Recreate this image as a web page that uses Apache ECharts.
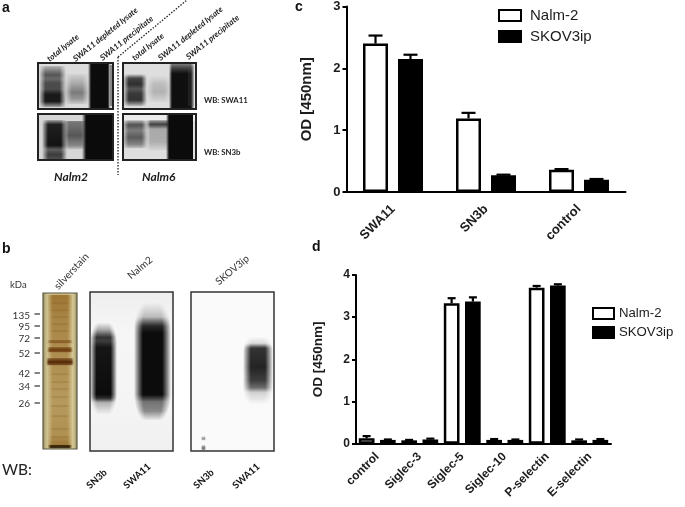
<!DOCTYPE html>
<html>
<head>
<meta charset="utf-8">
<style>
  html, body { margin: 0; background: #fff; }
  #chart { width: 685px; height: 507px; filter: blur(0.45px); }
</style>
<script src="https://cdn.jsdelivr.net/npm/echarts@6/dist/echarts.min.js"></script>
</head>
<body>
<div id="chart"></div>
<script>
const seriesNames = ['Nalm-2', 'SKOV3ip']

// panel c
const categoriesC = ['SWA11', 'SN3b', 'control']
const nalmC = [2.4, 1.19, 0.36]
const skovC = [2.15, 0.27, 0.2]
const nalmTopC = [2.53, 1.28, 0.37]
const skovTopC = [2.22, 0.28, 0.21]
const ticksC = [0, 1, 2, 3]

// panel d
const categoriesD = ['control', 'Siglec-3', 'Siglec-5', 'Siglec-10', 'P-selectin', 'E-selectin']
const nalmD = [0.13, 0.08, 3.33, 0.09, 3.7, 0.08]
const skovD = [0.09, 0.1, 3.37, 0.09, 3.75, 0.09]
const nalmTopD = [0.18, 0.09, 3.45, 0.11, 3.74, 0.1]
const skovTopD = [0.1, 0.12, 3.47, 0.1, 3.78, 0.11]
const ticksD = [0, 1, 2, 3, 4]

// panels a and b, text only
const lanesA = ['total lysate', 'SWA11 depleted lysate', 'SWA11 precipitate']
const kdaLabels = ['135', '95', '72', '52', '42', '34', '26']
const wbLanes = ['SN3b', 'SWA11', 'SN3b', 'SWA11']

const INK = '#1c1c1c'
const SANS = '"Liberation Sans", Arial, sans-serif'
const BLOT = 'Lato, "Open Sans", sans-serif'

function errorSeries(xAxisIndex, yAxisIndex, values, tops, side, slot, cap) {
  return {
    type: 'custom',
    xAxisIndex,
    yAxisIndex,
    silent: true,
    z: 3,
    encode: { x: 0, y: 1 },
    data: values.map((v, i) => [i, v, tops[i]]),
    renderItem(params, api) {
      const off = side * api.size([1, 0])[0] * slot
      const base = api.coord([api.value(0), api.value(1)])
      const top = api.coord([api.value(0), api.value(2)])
      const x = base[0] + off
      const style = { stroke: '#000', lineWidth: 2.2 }
      return {
        type: 'group',
        children: [
          { type: 'line', shape: { x1: x, y1: base[1], x2: x, y2: top[1] }, style },
          { type: 'line', shape: { x1: x - cap, y1: top[1], x2: x + cap, y2: top[1] }, style },
        ],
      }
    },
  }
}

function barSeries(name, xAxisIndex, yAxisIndex, data, fill, barWidth, barGap) {
  return {
    name,
    type: 'bar',
    xAxisIndex,
    yAxisIndex,
    data,
    barWidth,
    barGap,
    z: 2,
    itemStyle: { color: fill, borderColor: '#000', borderWidth: 2.5 },
  }
}

function valueAxis(gridIndex, ticks, name, nameGap, nameSize, labelSize) {
  return {
    gridIndex,
    type: 'value',
    min: ticks[0],
    max: ticks[ticks.length - 1],
    interval: 1,
    name,
    nameLocation: 'middle',
    nameGap,
    nameTextStyle: { fontFamily: SANS, fontWeight: 'bold', fontSize: nameSize, color: INK },
    splitLine: { show: false },
    axisLine: { show: true, lineStyle: { color: '#000', width: 2 } },
    axisTick: { show: true, length: 4, lineStyle: { color: '#000', width: 2 } },
    axisLabel: { fontFamily: SANS, fontWeight: 'bold', fontSize: labelSize, color: INK, margin: 6 },
  }
}

function legendAt(left, top, fontSize, itemWidth, itemHeight, itemGap, padLeft) {
  return {
    left,
    top,
    padding: 0,
    orient: 'vertical',
    icon: 'rect',
    data: seriesNames,
    itemWidth,
    itemHeight,
    itemGap,
    selectedMode: false,
    textStyle: { fontFamily: SANS, fontSize, color: INK, padding: [0, 0, 0, padLeft] },
  }
}

// ---- hand painted blots, these are photographs in the source figure ----
function grad(stops, horizontal) {
  return {
    type: 'linear',
    x: 0,
    y: 0,
    x2: horizontal ? 1 : 0,
    y2: horizontal ? 0 : 1,
    colorStops: stops.map(([offset, color]) => ({ offset, color })),
  }
}

function paint(x, y, w, h, fill, opacity) {
  return {
    type: 'rect',
    shape: { x, y, width: w, height: h },
    style: { fill, opacity: opacity == null ? 1 : opacity },
    silent: true,
  }
}

function frame(x, y, w, h, stroke, lineWidth) {
  return {
    type: 'rect',
    shape: { x, y, width: w, height: h },
    style: { fill: 'none', stroke: stroke || '#222', lineWidth: lineWidth || 2 },
    silent: true,
  }
}

// darkness along a lane, given as [position, alpha] pairs
function alphaAt(stops, t) {
  for (let i = 1; i < stops.length; i++) {
    if (t <= stops[i][0]) {
      const [a, av] = stops[i - 1]
      const [b, bv] = stops[i]
      return av + (bv - av) * (t - a) / (b - a)
    }
  }
  return stops[stops.length - 1][1]
}

// a smeared lane: one row per pixel with soft left and right sides.
// taper narrows the lane towards its two ends
function smear(x, y, w, h, stops, soft, rgb, taper) {
  const tone = rgb || '12,12,12'
  const edge = soft == null ? 0.2 : soft
  const rows = []
  for (let r = 0; r < h; r++) {
    const t = r / h
    const al = alphaAt(stops, t)
    const near = Math.min(1, Math.min(t, 1 - t) / 0.22)
    const inset = (taper || 0) * w * (1 - near) * (1 - near)
    rows.push(paint(x + inset, y + r, w - 2 * inset, 1.2, grad([
      [0, `rgba(${tone},0)`],
      [edge, `rgba(${tone},${al})`],
      [1 - edge, `rgba(${tone},${al})`],
      [1, `rgba(${tone},0)`],
    ], true)))
  }
  return rows
}

function label(text, x, y, opts) {
  const o = opts || {}
  return {
    type: 'text',
    x,
    y,
    rotation: (o.angle || 0) * Math.PI / 180,
    silent: true,
    style: {
      text,
      x: 0,
      y: 0,
      fill: o.color || INK,
      font: `${o.style || 'normal'} ${o.weight || 'normal'} ${o.size || 10}px ${o.family || BLOT}`,
      textAlign: o.align || 'left',
      textVerticalAlign: o.valign || 'middle',
    },
  }
}

function panelA() {
  const els = []
  // upper left
  els.push(paint(38, 63, 75, 46, '#dcdcdc'))
  els.push(...smear(39, 66, 27, 41, [[0, 0.2], [0.12, 0.45], [0.2, 0.6], [0.3, 0.5], [0.4, 0.65], [0.55, 0.65], [0.68, 0.92], [0.85, 0.92], [0.93, 0.5], [1, 0.15]], 0.24))
  els.push(...smear(64, 74, 26, 30, [[0, 0.05], [0.3, 0.22], [0.6, 0.42], [0.8, 0.3], [1, 0.05]], 0.3))
  els.push(paint(88, 63, 3, 46, grad([[0, 'rgba(12,12,12,0)'], [1, '#0c0c0c']], true)))
  els.push(paint(91, 63, 17, 46, '#0c0c0c'))
  els.push(paint(108, 63, 2, 46, grad([[0, '#0c0c0c'], [1, '#cfcfcf']], true)))
  els.push(paint(110, 65, 2, 41, '#707070', 0.8))
  // upper right
  els.push(paint(123, 63, 73, 46, '#dedede'))
  els.push(...smear(123, 74, 24, 32, [[0, 0.1], [0.12, 0.7], [0.3, 0.8], [0.45, 0.6], [0.6, 0.75], [0.8, 0.78], [0.92, 0.35], [1, 0.05]], 0.24))
  els.push(...smear(146, 76, 26, 26, [[0, 0.02], [0.3, 0.14], [0.6, 0.18], [1, 0.02]], 0.3))
  els.push(...smear(169, 63, 25, 46, [[0, 0.4], [0.12, 0.75], [0.22, 0.98], [1, 0.98]], 0.12))
  els.push(paint(188, 66, 6, 40, '#555', 0.25))
  // lower left
  els.push(paint(38, 114, 75, 46, '#d6d6d6'))
  els.push(...smear(42, 120, 25, 40, [[0, 0.3], [0.1, 0.88], [0.62, 0.96], [0.72, 0.55], [0.85, 0.72], [1, 0.6]], 0.24))
  els.push(...smear(63, 121, 24, 28, [[0, 0.42], [0.2, 0.48], [0.5, 0.58], [0.85, 0.35], [1, 0.05]], 0.24))
  els.push(paint(82, 114, 4, 46, grad([[0, 'rgba(11,11,11,0)'], [1, '#0b0b0b']], true)))
  els.push(paint(86, 114, 27, 46, '#0b0b0b'))
  // lower right
  els.push(paint(123, 114, 73, 46, '#dedede'))
  els.push(paint(123, 114, 73, 7, '#ececec'))
  els.push(...smear(122, 120, 26, 28, [[0, 0.2], [0.15, 0.62], [0.35, 0.42], [0.6, 0.58], [0.85, 0.38], [1, 0.08]], 0.24))
  els.push(...smear(146, 120, 25, 30, [[0, 0.3], [0.13, 0.7], [0.28, 0.22], [0.7, 0.2], [1, 0.03]], 0.18))
  els.push(paint(166, 114, 3, 46, grad([[0, 'rgba(11,11,11,0)'], [1, '#0b0b0b']], true)))
  els.push(paint(169, 114, 24, 46, '#0b0b0b'))
  els.push(frame(38, 63, 75, 46), frame(123, 63, 73, 46), frame(38, 114, 75, 46), frame(123, 114, 73, 46))

  // dotted divider
  const dots = { lineDash: [1.5, 1.5], stroke: '#222', lineWidth: 1.3, fill: 'none' }
  els.push({ type: 'line', shape: { x1: 118, y1: 57, x2: 118, y2: 175 }, style: dots, silent: true })
  els.push({ type: 'line', shape: { x1: 118, y1: 57, x2: 187, y2: 0 }, style: dots, silent: true })

  const starts = [[48, 60], [74, 60], [101, 59], [133, 59], [159, 59], [187, 58]]
  starts.forEach(([x, y], i) => {
    els.push(label(lanesA[i % 3], x, y, { angle: 39, size: 8.2, style: 'italic', weight: 'bold', valign: 'middle', color: '#222' }))
  })
  els.push(label('WB: SWA11', 204, 100, { size: 7.8, weight: 'bold', color: '#222' }))
  els.push(label('WB: SN3b', 204, 152, { size: 7.8, weight: 'bold', color: '#222' }))
  els.push(label('Nalm2', 54, 177, { size: 12, weight: 'bold', style: 'italic' }))
  els.push(label('Nalm6', 142, 177, { size: 12, weight: 'bold', style: 'italic' }))
  return els
}

function panelB() {
  const els = []
  // silver stain strip
  els.push(paint(43, 293, 34, 156, grad([[0, '#9c8f62'], [0.12, '#d2c494'], [0.3, '#ccb982'], [0.7, '#ccb982'], [0.88, '#d8cb9a'], [1, '#9c8f62']], true)))
  els.push(...smear(47, 295, 26, 152, [[0, 0.85], [0.15, 0.62], [0.4, 0.5], [0.7, 0.36], [0.92, 0.48], [1, 0.9]], 0.22, '150,108,40'))
  ;[302, 309, 316, 323, 330, 373, 381, 388, 396, 405, 415, 428, 436].forEach((y) => {
    els.push(...smear(49, y, 22, 2, [[0, 0.16], [1, 0.16]], 0.2, '120,80,25'))
  })
  els.push(...smear(47, 340, 26, 3, [[0, 0.55], [1, 0.55]], 0.15, '120,70,20'))
  els.push(...smear(47, 347, 26, 5, [[0, 0.5], [0.5, 0.95], [1, 0.5]], 0.12, '105,55,10'))
  els.push(...smear(46, 358, 28, 7, [[0, 0.45], [0.5, 1], [1, 0.45]], 0.1, '85,40,5'))
  els.push(...smear(48, 445, 24, 3, [[0, 0.9], [1, 0.9]], 0.12, '50,35,12'))
  els.push(frame(43, 293, 34, 156, '#5a5846', 1.2))

  // Nalm2 blot
  els.push(paint(90, 292, 83, 159, grad([[0, '#eeeeee'], [0.25, '#f6f6f6'], [0.75, '#f4f4f4'], [1, '#f0f0f0']])))
  els.push(...smear(90, 322, 27, 92, [[0, 0], [0.08, 0.3], [0.16, 0.8], [0.2, 0.75], [0.27, 0.95], [0.78, 1], [0.82, 0.85], [0.87, 0.25], [1, 0]], 0.24, null, 0.2))
  els.push(...smear(134, 302, 37, 118, [[0, 0], [0.12, 0.2], [0.2, 0.85], [0.26, 1], [0.78, 1], [0.84, 0.5], [0.92, 0.4], [1, 0]], 0.24, null, 0.2))
  els.push(frame(90, 292, 83, 159, '#333', 1.5))

  // SKOV3ip blot
  els.push(paint(191, 292, 83, 159, '#fafafa'))
  els.push(...smear(243, 336, 30, 68, [[0, 0], [0.1, 0.12], [0.17, 0.8], [0.45, 0.88], [0.65, 0.75], [0.75, 0.55], [0.82, 0.15], [1, 0]], 0.26, null, 0.15))
  els.push(...smear(201, 436, 5, 4, [[0, 0.1], [0.5, 0.4], [1, 0.1]], 0.3))
  els.push(...smear(201, 445, 5, 5, [[0, 0.2], [0.5, 0.55], [1, 0.2]], 0.3))
  els.push(frame(191, 292, 83, 159, '#333', 1.5))

  // kDa ladder
  els.push(label('kDa', 10, 285, { size: 9.5, color: '#333' }))
  const labelY = [316, 327, 339, 354, 374, 387, 404]
  const dashY = [314, 326, 338, 353, 373, 386, 403]
  kdaLabels.forEach((t, i) => {
    els.push(label(t, 30, labelY[i], { size: 10, align: 'right', color: '#333' }))
    els.push(paint(34.5, dashY[i] - 0.6, 5.5, 1.2, '#333'))
  })

  els.push(label('silverstain', 56, 288, { angle: 47, size: 10.4, color: '#333' }))
  els.push(label('Nalm2', 129, 277, { angle: 40, size: 10, color: '#333' }))
  els.push(label('SKOV3ip', 217, 283, { angle: 40, size: 10, color: '#333' }))

  els.push(label('WB:', 2, 470, { size: 15.5, color: '#222' }))
  ;[[88, 487], [125, 487], [195, 487], [234, 487]].forEach(([x, y], i) => {
    els.push(label(wbLanes[i], x, y, { angle: 42, size: 9.6, weight: 'bold', color: '#111' }))
  })
  return els
}

const panelLetters = [
  label('a', 2, 8, { size: 14, weight: 'bold', family: SANS, color: '#111' }),
  label('b', 2, 249, { size: 14, weight: 'bold', family: SANS, color: '#111' }),
  label('c', 295, 7, { size: 14, weight: 'bold', family: SANS, color: '#111' }),
  label('d', 312, 247, { size: 14, weight: 'bold', family: SANS, color: '#111' }),
]

const option = {
  backgroundColor: '#fff',
  animation: false,
  legend: [
    legendAt(498, 8, 15, 22, 11, 6, 4),
    legendAt(592, 307, 13.2, 21, 11, 6, 0),
  ],
  grid: [
    { left: 346.5, top: 5.7, width: 279, height: 186.3 },
    { left: 356, top: 275, width: 255, height: 168.7 },
  ],
  xAxis: [
    {
      gridIndex: 0,
      type: 'category',
      data: categoriesC,
      axisLine: { lineStyle: { color: '#000', width: 2 } },
      axisTick: { alignWithLabel: true, length: 5, lineStyle: { color: '#000', width: 2 } },
      axisLabel: { rotate: 45, interval: 0, margin: 15, fontFamily: SANS, fontWeight: 'bold', fontSize: 13, color: INK },
    },
    {
      gridIndex: 1,
      type: 'category',
      data: categoriesD,
      axisLine: { lineStyle: { color: '#000', width: 2 } },
      axisTick: { show: false },
      axisLabel: { rotate: 45, interval: 0, margin: 11, fontFamily: SANS, fontWeight: 'bold', fontSize: 12, color: INK },
    },
    {
      // every single bar gets its own tick in panel d
      gridIndex: 1,
      type: 'category',
      position: 'bottom',
      data: categoriesD.flatMap((c) => seriesNames.map((s) => `${c} ${s}`)),
      axisLine: { show: false },
      axisTick: { alignWithLabel: true, length: 4, lineStyle: { color: '#000', width: 2 } },
      axisLabel: { show: false },
    },
  ],
  yAxis: [
    valueAxis(0, ticksC, 'OD [450nm]', 32, 15, 13),
    valueAxis(1, ticksD, 'OD [450nm]', 31, 13.5, 12),
  ],
  series: [
    barSeries(seriesNames[0], 0, 0, nalmC, '#fff', 25, '40%'),
    barSeries(seriesNames[1], 0, 0, skovC, '#000', 25, '40%'),
    errorSeries(0, 0, nalmC, nalmTopC, -1, 0.188, 7),
    errorSeries(0, 0, skovC, skovTopC, 1, 0.188, 7),
    barSeries(seriesNames[0], 1, 1, nalmD, '#fff', 15.7, '35%'),
    barSeries(seriesNames[1], 1, 1, skovD, '#000', 15.7, '35%'),
    errorSeries(1, 1, nalmD, nalmTopD, -1, 0.25, 4),
    errorSeries(1, 1, skovD, skovTopD, 1, 0.25, 4),
  ],
  graphic: { elements: [...panelA(), ...panelB(), ...panelLetters] },
}

const chart = echarts.init(document.getElementById('chart'), null, { renderer: 'canvas' })
chart.setOption(option)
</script>
</body>
</html>
